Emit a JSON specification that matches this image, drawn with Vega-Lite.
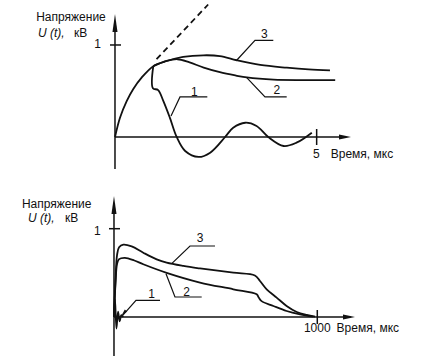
{
  "$schema": "https://vega.github.io/schema/vega-lite/v6.json",
  "padding": 0,
  "spacing": 10,
  "background": "white",
  "config": {
    "view": {"stroke": null},
    "text": {"font": "Liberation Sans", "fontSize": 12, "color": "#111", "baseline": "middle"}
  },
  "datasets": {
    "top_curves": [
      {"c": "3", "x": 0, "y": 0}, {"c": "3", "x": 0.124, "y": 0.21}, {"c": "3", "x": 0.29, "y": 0.39}, {"c": "3", "x": 0.45, "y": 0.52}, {"c": "3", "x": 0.66, "y": 0.645}, {"c": "3", "x": 0.95, "y": 0.77}, {"c": "3", "x": 1.28, "y": 0.826}, {"c": "3", "x": 1.69, "y": 0.87}, {"c": "3", "x": 2.19, "y": 0.888}, {"c": "3", "x": 2.6, "y": 0.88}, {"c": "3", "x": 3.02, "y": 0.834}, {"c": "3", "x": 3.6, "y": 0.783}, {"c": "3", "x": 4.26, "y": 0.753}, {"c": "3", "x": 4.8, "y": 0.735}, {"c": "3", "x": 5.33, "y": 0.725},
      {"c": "2", "x": 0.95, "y": 0.77}, {"c": "2", "x": 1.28, "y": 0.826}, {"c": "2", "x": 1.55, "y": 0.845}, {"c": "2", "x": 1.85, "y": 0.81}, {"c": "2", "x": 2.2, "y": 0.755}, {"c": "2", "x": 2.6, "y": 0.705}, {"c": "2", "x": 3.0, "y": 0.668}, {"c": "2", "x": 3.27, "y": 0.647}, {"c": "2", "x": 3.93, "y": 0.623}, {"c": "2", "x": 4.7, "y": 0.618}, {"c": "2", "x": 5.46, "y": 0.617},
      {"c": "1", "x": 0.95, "y": 0.77}, {"c": "1", "x": 0.94, "y": 0.53}, {"c": "1", "x": 1.07, "y": 0.51}, {"c": "1", "x": 1.2, "y": 0.39}, {"c": "1", "x": 1.36, "y": 0.21}, {"c": "1", "x": 1.53, "y": 0}, {"c": "1", "x": 1.74, "y": -0.152}, {"c": "1", "x": 2.07, "y": -0.217}, {"c": "1", "x": 2.36, "y": -0.17}, {"c": "1", "x": 2.73, "y": 0}, {"c": "1", "x": 2.93, "y": 0.1}, {"c": "1", "x": 3.23, "y": 0.155}, {"c": "1", "x": 3.51, "y": 0.12}, {"c": "1", "x": 3.8, "y": 0}, {"c": "1", "x": 4.18, "y": -0.098}, {"c": "1", "x": 4.5, "y": -0.062}, {"c": "1", "x": 4.88, "y": 0.047},
      {"c": "asymptote", "x": 1.03, "y": 0.845}, {"c": "asymptote", "x": 2.31, "y": 1.44}
    ],
    "top_axes": [
      {"x": 0, "y": -0.348, "x2": 0, "y2": 1.25},
      {"x": 0, "y": 0, "x2": 5.72, "y2": 0},
      {"x": -0.124, "y": 1, "x2": 0.149, "y2": 1},
      {"x": 5, "y": -0.087, "x2": 5, "y2": 0.087}
    ],
    "top_arrows": [
      {"axis": "y", "x": 0, "y": 1.239},
      {"axis": "x", "x": 5.703, "y": 0}
    ],
    "top_leaders": [
      {"l": "3", "x": 3.018, "y": 0.834}, {"l": "3", "x": 3.471, "y": 1.051}, {"l": "3", "x": 3.925, "y": 1.051},
      {"l": "2", "x": 3.266, "y": 0.645}, {"l": "2", "x": 3.719, "y": 0.435}, {"l": "2", "x": 4.257, "y": 0.435},
      {"l": "1", "x": 1.389, "y": 0.228}, {"l": "1", "x": 1.612, "y": 0.435}, {"l": "1", "x": 2.289, "y": 0.435}
    ],
    "top_text_center": [
      {"x": -1.091, "y": 1.304, "t": "Напряжение"},
      {"x": -0.429, "y": 1.008, "t": "1"},
      {"x": 4.99, "y": -0.185, "t": "5"},
      {"x": 3.70, "y": 1.116, "t": "3"},
      {"x": 4.01, "y": 0.508, "t": "2"},
      {"x": 1.966, "y": 0.492, "t": "1"}
    ],
    "top_text_left": [
      {"x": 5.35, "y": -0.185, "t": "Время,  мкс"},
      {"x": -1.017, "y": 1.134, "t": "кВ"}
    ],
    "top_text_italic": [
      {"x": -1.909, "y": 1.134, "t": "U (t),"}
    ],
    "bottom_curves": [
      {"c": "3", "x": 0, "y": 0}, {"c": "3", "x": 8, "y": 0.45}, {"c": "3", "x": 15, "y": 0.7}, {"c": "3", "x": 25, "y": 0.79}, {"c": "3", "x": 46, "y": 0.82}, {"c": "3", "x": 87, "y": 0.80}, {"c": "3", "x": 144, "y": 0.728}, {"c": "3", "x": 210, "y": 0.653}, {"c": "3", "x": 259, "y": 0.615}, {"c": "3", "x": 341, "y": 0.578}, {"c": "3", "x": 423, "y": 0.55}, {"c": "3", "x": 587, "y": 0.502}, {"c": "3", "x": 693, "y": 0.47}, {"c": "3", "x": 718, "y": 0.408}, {"c": "3", "x": 751, "y": 0.314}, {"c": "3", "x": 800, "y": 0.22}, {"c": "3", "x": 849, "y": 0.125}, {"c": "3", "x": 899, "y": 0.057}, {"c": "3", "x": 948, "y": 0.023}, {"c": "3", "x": 989, "y": 0.004},
      {"c": "2", "x": 0, "y": 0}, {"c": "2", "x": 8, "y": 0.4}, {"c": "2", "x": 15, "y": 0.6}, {"c": "2", "x": 25, "y": 0.655}, {"c": "2", "x": 54, "y": 0.67}, {"c": "2", "x": 100, "y": 0.64}, {"c": "2", "x": 144, "y": 0.597}, {"c": "2", "x": 259, "y": 0.50}, {"c": "2", "x": 423, "y": 0.39}, {"c": "2", "x": 587, "y": 0.314}, {"c": "2", "x": 702, "y": 0.257}, {"c": "2", "x": 712, "y": 0.22}, {"c": "2", "x": 726, "y": 0.18}, {"c": "2", "x": 784, "y": 0.125}, {"c": "2", "x": 849, "y": 0.068}, {"c": "2", "x": 915, "y": 0.03}, {"c": "2", "x": 980, "y": 0.004},
      {"c": "1", "x": 0, "y": 0}, {"c": "1", "x": 5, "y": 0.2}, {"c": "1", "x": 12, "y": -0.13}, {"c": "1", "x": 20, "y": 0.06}, {"c": "1", "x": 28, "y": -0.05}, {"c": "1", "x": 36, "y": 0.02}, {"c": "1", "x": 45, "y": 0}
    ],
    "bottom_axes": [
      {"x": 0, "y": -0.442, "x2": 0, "y2": 1.17},
      {"x": 0, "y": 0, "x2": 1165, "y2": 0},
      {"x": -24.6, "y": 1, "x2": 29.5, "y2": 1},
      {"x": 1000, "y": -0.079, "x2": 1000, "y2": 0.079}
    ],
    "bottom_arrows": [
      {"axis": "y", "x": 0, "y": 1.268},
      {"axis": "x", "x": 1156, "y": 0}
    ],
    "bottom_pointer": [
      {"x": 47.6, "y": 0.044, "angle": 221.5}
    ],
    "bottom_leaders": [
      {"l": "3", "x": 283.8, "y": 0.604}, {"l": "3", "x": 373.8, "y": 0.804}, {"l": "3", "x": 496.8, "y": 0.804},
      {"l": "2", "x": 255.8, "y": 0.49}, {"l": "2", "x": 300, "y": 0.2265}, {"l": "2", "x": 431.4, "y": 0.2265},
      {"l": "1", "x": 42.8, "y": 0.019}, {"l": "1", "x": 108.2, "y": 0.189}, {"l": "1", "x": 226.3, "y": 0.189}
    ],
    "bottom_text_center": [
      {"x": -281.8, "y": 1.276, "t": "Напряжение"},
      {"x": -82.1, "y": 0.974, "t": "1"},
      {"x": 1000, "y": -0.125, "t": "1000"},
      {"x": 423, "y": 0.891, "t": "3"},
      {"x": 357.6, "y": 0.283, "t": "2"},
      {"x": 185.4, "y": 0.257, "t": "1"}
    ],
    "bottom_text_left": [
      {"x": 1095, "y": -0.125, "t": "Время, мкс"},
      {"x": -241, "y": 1.125, "t": "кВ"}
    ],
    "bottom_text_italic": [
      {"x": -423, "y": 1.125, "t": "U (t),"}
    ]
  },
  "vconcat": [
    {
      "width": 426,
      "height": 175,
      "encoding": {
        "x": {"field": "x", "type": "quantitative", "axis": null, "scale": {"domain": [-2.851, 7.711], "nice": false, "zero": false}},
        "y": {"field": "y", "type": "quantitative", "axis": null, "scale": {"domain": [-0.424, 1.478], "nice": false, "zero": false}}
      },
      "layer": [
        {"data": {"name": "top_axes"}, "mark": {"type": "rule", "strokeWidth": 1.5, "color": "#111"}, "encoding": {"x2": {"field": "x2"}, "y2": {"field": "y2"}}},
        {"data": {"name": "top_arrows"}, "transform": [{"filter": "datum.axis == 'y'"}], "mark": {"type": "point", "shape": "M0,-1L0.28,1L-0.28,1Z", "filled": true, "color": "#111", "size": 324, "opacity": 1}},
        {"data": {"name": "top_arrows"}, "transform": [{"filter": "datum.axis == 'x'"}], "mark": {"type": "point", "shape": "M0,-1L0.4,1L-0.4,1Z", "filled": true, "color": "#111", "size": 144, "angle": 90, "opacity": 1}},
        {"data": {"name": "top_curves"}, "transform": [{"filter": "datum.c != 'asymptote'"}], "mark": {"type": "line", "interpolate": "catmull-rom", "strokeWidth": 1.8, "color": "#111"}, "encoding": {"detail": {"field": "c"}, "order": {"value": null}}},
        {"data": {"name": "top_curves"}, "transform": [{"filter": "datum.c == 'asymptote'"}], "mark": {"type": "line", "strokeWidth": 1.8, "strokeDash": [6, 4], "color": "#111"}, "encoding": {"order": {"value": null}}},
        {"data": {"name": "top_leaders"}, "mark": {"type": "line", "strokeWidth": 1.2, "color": "#111"}, "encoding": {"detail": {"field": "l"}, "order": {"value": null}}},
        {"data": {"name": "top_text_center"}, "mark": {"type": "text", "align": "center"}, "encoding": {"text": {"field": "t"}}},
        {"data": {"name": "top_text_left"}, "mark": {"type": "text", "align": "left"}, "encoding": {"text": {"field": "t"}}},
        {"data": {"name": "top_text_italic"}, "mark": {"type": "text", "align": "left", "fontStyle": "italic"}, "encoding": {"text": {"field": "t"}}}
      ]
    },
    {
      "width": 426,
      "height": 175,
      "encoding": {
        "x": {"field": "x", "type": "quantitative", "axis": null, "scale": {"domain": [-560.7, 1534.7], "nice": false, "zero": false}},
        "y": {"field": "y", "type": "quantitative", "axis": null, "scale": {"domain": [-0.4983, 1.4836], "nice": false, "zero": false}}
      },
      "layer": [
        {"data": {"name": "bottom_axes"}, "mark": {"type": "rule", "strokeWidth": 1.5, "color": "#111"}, "encoding": {"x2": {"field": "x2"}, "y2": {"field": "y2"}}},
        {"data": {"name": "bottom_arrows"}, "transform": [{"filter": "datum.axis == 'y'"}], "mark": {"type": "point", "shape": "M0,-1L0.28,1L-0.28,1Z", "filled": true, "color": "#111", "size": 324, "opacity": 1}},
        {"data": {"name": "bottom_arrows"}, "transform": [{"filter": "datum.axis == 'x'"}], "mark": {"type": "point", "shape": "M0,-1L0.4,1L-0.4,1Z", "filled": true, "color": "#111", "size": 144, "angle": 90, "opacity": 1}},
        {"data": {"name": "bottom_curves"}, "mark": {"type": "line", "interpolate": "catmull-rom", "strokeWidth": 1.8, "color": "#111"}, "encoding": {"detail": {"field": "c"}, "order": {"value": null}}},
        {"data": {"name": "bottom_leaders"}, "mark": {"type": "line", "strokeWidth": 1.2, "color": "#111"}, "encoding": {"detail": {"field": "l"}, "order": {"value": null}}},
        {"data": {"name": "bottom_pointer"}, "mark": {"type": "point", "shape": "M0,-1L0.45,1L-0.45,1Z", "filled": true, "color": "#111", "size": 49, "opacity": 1}, "encoding": {"angle": {"field": "angle", "type": "quantitative", "scale": null}}},
        {"data": {"name": "bottom_text_center"}, "mark": {"type": "text", "align": "center"}, "encoding": {"text": {"field": "t"}}},
        {"data": {"name": "bottom_text_left"}, "mark": {"type": "text", "align": "left"}, "encoding": {"text": {"field": "t"}}},
        {"data": {"name": "bottom_text_italic"}, "mark": {"type": "text", "align": "left", "fontStyle": "italic"}, "encoding": {"text": {"field": "t"}}}
      ]
    }
  ]
}
